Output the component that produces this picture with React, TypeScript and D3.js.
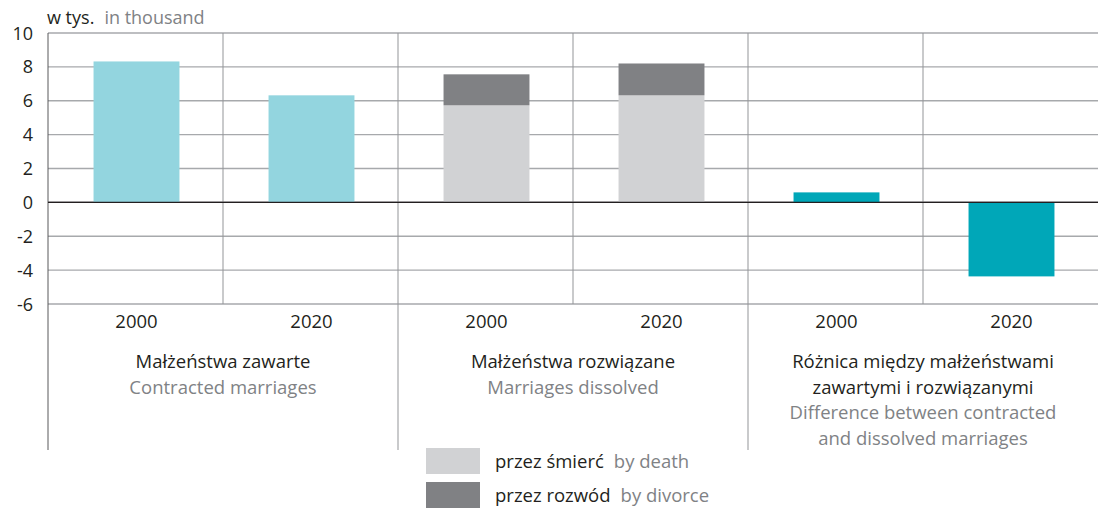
import { useEffect } from 'react';
import * as d3 from 'd3';

// values in thousands
const years = ['2000', '2020'];
const contracted = [8.32, 6.32];
const byDeath = [5.73, 6.32];
const byDivorce = [1.83, 1.88];
const difference = [0.59, -4.37];
const yTicks = [10, 8, 6, 4, 2, 0, -2, -4, -6];

const groupTitles = [
  { pl: ['Małżeństwa zawarte'], en: ['Contracted marriages'] },
  { pl: ['Małżeństwa rozwiązane'], en: ['Marriages dissolved'] },
  {
    pl: ['Różnica między małżeństwami', 'zawartymi i rozwiązanymi'],
    en: ['Difference between contracted', 'and dissolved marriages'],
  },
];

const legendItems = [
  { pl: 'przez śmierć', en: 'by death', color: '#d1d2d4' },
  { pl: 'przez rozwód', en: 'by divorce', color: '#808184' },
];

const W = 1098;
const H = 509;
const FONT = '"Open Sans", "Noto Sans", sans-serif';

const App = () => {
  useEffect(() => {
    document.body.style.margin = '0';
  }, []);

  const keys = ['c0', 'c1', 'd0', 'd1', 'f0', 'f1'];
  const x = d3.scaleBand<string>().domain(keys).range([48, 1098]).paddingInner(0.509).paddingOuter(0.2545);
  const y = d3.scaleLinear().domain([-6, 10]).range([304, 33]);
  const step = x.step();
  const bw = x.bandwidth();
  const y0 = y(0);

  const rect = (key: string, a: number, b: number, fill: string) => (
    <rect
      key={key + fill + a}
      x={(x(key) ?? 0) + 1}
      y={y(Math.max(a, b))}
      width={bw}
      height={Math.abs(y(a) - y(b))}
      fill={fill}
    />
  );

  return (
    <svg width={W} height={H} style={{ display: 'block', fontFamily: FONT }}>
      {/* horizontal grid */}
      {yTicks.map((t) => (
        <line
          key={'g' + t}
          x1={48}
          x2={W}
          y1={y(t)}
          y2={y(t)}
          stroke={t === 0 ? '#231f20' : '#a7a9ac'}
          strokeWidth={t === 0 ? 1.2 : 1.4}
        />
      ))}
      {/* vertical grid */}
      {d3.range(6).map((i) => {
        const xv = 48 + i * step;
        const groupEdge = i % 2 === 0;
        return (
          <line
            key={'v' + i}
            x1={xv}
            x2={xv}
            y1={33}
            y2={groupEdge ? 450 : 304}
            stroke={i === 0 ? '#58595b' : '#939598'}
            strokeWidth={1}
          />
        );
      })}

      {/* bars */}
      {years.map((_, i) => rect('c' + i, 0, contracted[i], '#93d5df'))}
      {years.map((_, i) => rect('d' + i, 0, byDeath[i], '#d1d2d4'))}
      {years.map((_, i) => rect('d' + i, byDeath[i], byDeath[i] + byDivorce[i], '#808184'))}
      {years.map((_, i) => rect('f' + i, 0, difference[i], '#00a7b8'))}
      <line x1={48} x2={W} y1={y0} y2={y0} stroke="#231f20" strokeWidth={1.2} />

      {/* y tick labels */}
      {yTicks.map((t) => (
        <text key={'t' + t} x={33} y={y(t) + 6.5} textAnchor="end" fontSize={18} fill="#231f20">
          {t}
        </text>
      ))}
      <text x={47} y={24} fontSize={18} fill="#231f20">
        w tys.
        <tspan dx={10} fill="#808285">in thousand</tspan>
      </text>

      {/* year labels */}
      {keys.map((k, i) => (
        <text key={'y' + k} x={(x(k) ?? 0) + bw / 2 + 1} y={328} textAnchor="middle" fontSize={18.5} fill="#231f20">
          {years[i % 2]}
        </text>
      ))}

      {/* group titles */}
      {groupTitles.map((g, gi) => {
        const cx = 48 + step * (gi * 2 + 1);
        const lines = [
          ...g.pl.map((t) => ({ t, c: '#231f20' })),
          ...g.en.map((t) => ({ t, c: '#808285' })),
        ];
        return lines.map((l, li) => (
          <text key={'gt' + gi + li} x={cx} y={368 + li * 25.5} textAnchor="middle" fontSize={18.5} fill={l.c}>
            {l.t}
          </text>
        ));
      })}

      {/* legend */}
      {legendItems.map((d, i) => (
        <g key={'l' + i} transform={`translate(426,${448 + i * 34})`}>
          <rect width={54} height={26} fill={d.color} />
          <text x={69} y={20} fontSize={18.5} fill="#231f20">
            {d.pl}
            <tspan dx={10} fill="#808285">{d.en}</tspan>
          </text>
        </g>
      ))}
    </svg>
  );
};

export default App;
